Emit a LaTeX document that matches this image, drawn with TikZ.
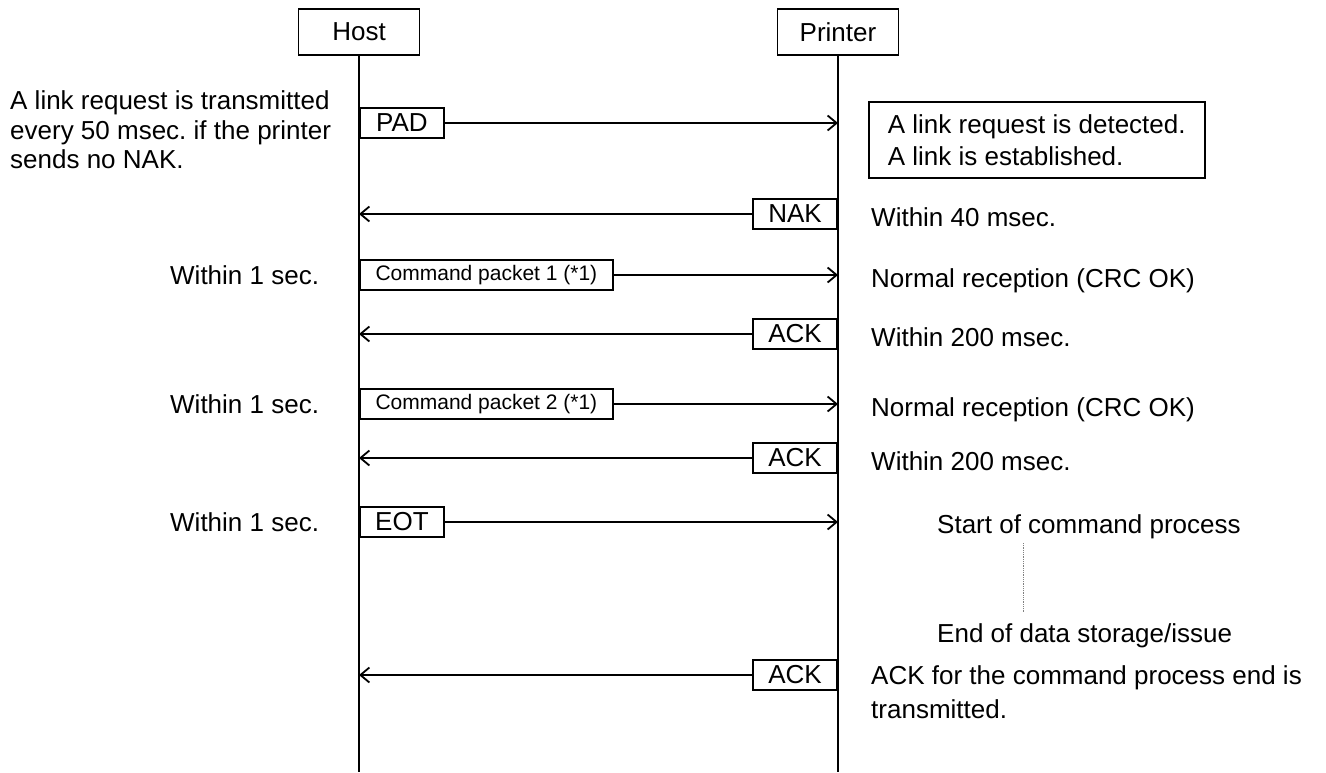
\documentclass[tikz,border=0pt]{standalone}
\usepackage{fontspec}
\setmainfont{Liberation Sans}
\usetikzlibrary{arrows.meta}
\frenchspacing
\begin{document}
\begin{tikzpicture}[x=1pt,y=-1pt,
  lw/.style={line width=1.8pt},
  actor/.style={draw, line width=1.8pt, minimum width=121pt, minimum height=46pt, inner sep=0pt, font=\fontsize{26}{30}\selectfont},
  msg/.style={draw, line width=1.8pt, minimum height=30pt, inner sep=0pt, font=\fontsize{26}{30}\selectfont},
  cmdbox/.style={draw, line width=1.8pt, minimum height=30pt, minimum width=253pt, inner sep=0pt, font=\fontsize{21}{25}\selectfont},
  lbl/.style={inner sep=0pt, font=\fontsize{26}{30}\selectfont},
  arr/.style={line width=1.8pt, -{Straight Barb[length=9pt,width=15pt,line width=1.8pt]}}
]
\useasboundingbox (0,0) rectangle (1326,772);

% actors and lifelines
\node[actor] (host) at (359,32) {Host};
\node[actor] (printer) at (838,32) {Printer};
\coordinate (hend) at (359,772);
\coordinate (pend) at (838,772);
\draw[lw] (host.south) -- (hend);
\draw[lw] (printer.south) -- (pend);

% PAD
\node[msg, minimum width=84pt, anchor=west] (pad) at (359,123) {PAD};
\draw[arr] (pad.east) -- (pad.east -| printer);
\node[lbl, anchor=west, align=left, font=\fontsize{26}{29.5}\selectfont] (l0) at (10,130)
  {A link request is transmitted\\every 50 msec. if the printer\\sends no NAK.};
\node[draw, lw, anchor=north west, minimum height=76pt, inner xsep=19pt, inner ysep=0pt,
  align=left, font=\fontsize{26}{32}\selectfont] (link) at (868,101)
  {A link request is detected.\\A link is established.};

% NAK
\node[msg, minimum width=84pt, anchor=east] (nak) at (838,214) {NAK};
\draw[arr] (nak.west) -- (nak.west -| host);
\node[lbl, anchor=base west] (r1) at (871,226) {Within 40 msec.};

% Command packet 1
\node[cmdbox, anchor=west] (c1) at (359,275) {Command packet 1 (*1)};
\draw[arr] (c1.east) -- (c1.east -| printer);
\node[lbl, anchor=base west] (l1) at (170,284) {Within 1 sec.};
\node[lbl, anchor=base west] (r2) at (871,287) {Normal reception (CRC OK)};

% ACK 1
\node[msg, minimum width=84pt, anchor=east] (a1) at (838,334) {ACK};
\draw[arr] (a1.west) -- (a1.west -| host);
\node[lbl, anchor=base west] (r3) at (871,346) {Within 200 msec.};

% Command packet 2
\node[cmdbox, anchor=west] (c2) at (359,404) {Command packet 2 (*1)};
\draw[arr] (c2.east) -- (c2.east -| printer);
\node[lbl, anchor=base west] (l2) at (170,413) {Within 1 sec.};
\node[lbl, anchor=base west] (r4) at (871,416) {Normal reception (CRC OK)};

% ACK 2
\node[msg, minimum width=84pt, anchor=east] (a2) at (838,458) {ACK};
\draw[arr] (a2.west) -- (a2.west -| host);
\node[lbl, anchor=base west] (r5) at (871,470) {Within 200 msec.};

% EOT
\node[msg, minimum width=84pt, anchor=west] (eot) at (359,522) {EOT};
\draw[arr] (eot.east) -- (eot.east -| printer);
\node[lbl, anchor=base west] (l3) at (170,531) {Within 1 sec.};
\node[lbl, anchor=base west] (s1) at (937,533) {Start of command process};
\node[lbl, anchor=base west] (s2) at (937,642) {End of data storage/issue};
\coordinate (d1) at (1023,543);
\coordinate (d2) at (1023,613);
\draw[gray, densely dotted, line width=0.8pt] (d1) -- (d2);

% ACK 3
\node[msg, minimum width=84pt, anchor=east] (a3) at (838,675) {ACK};
\draw[arr] (a3.west) -- (a3.west -| host);
\node[lbl, anchor=north west, align=left, font=\fontsize{26}{34}\selectfont] (r6) at (871,665)
  {ACK for the command process end is\\transmitted.};
\end{tikzpicture}
\end{document}
